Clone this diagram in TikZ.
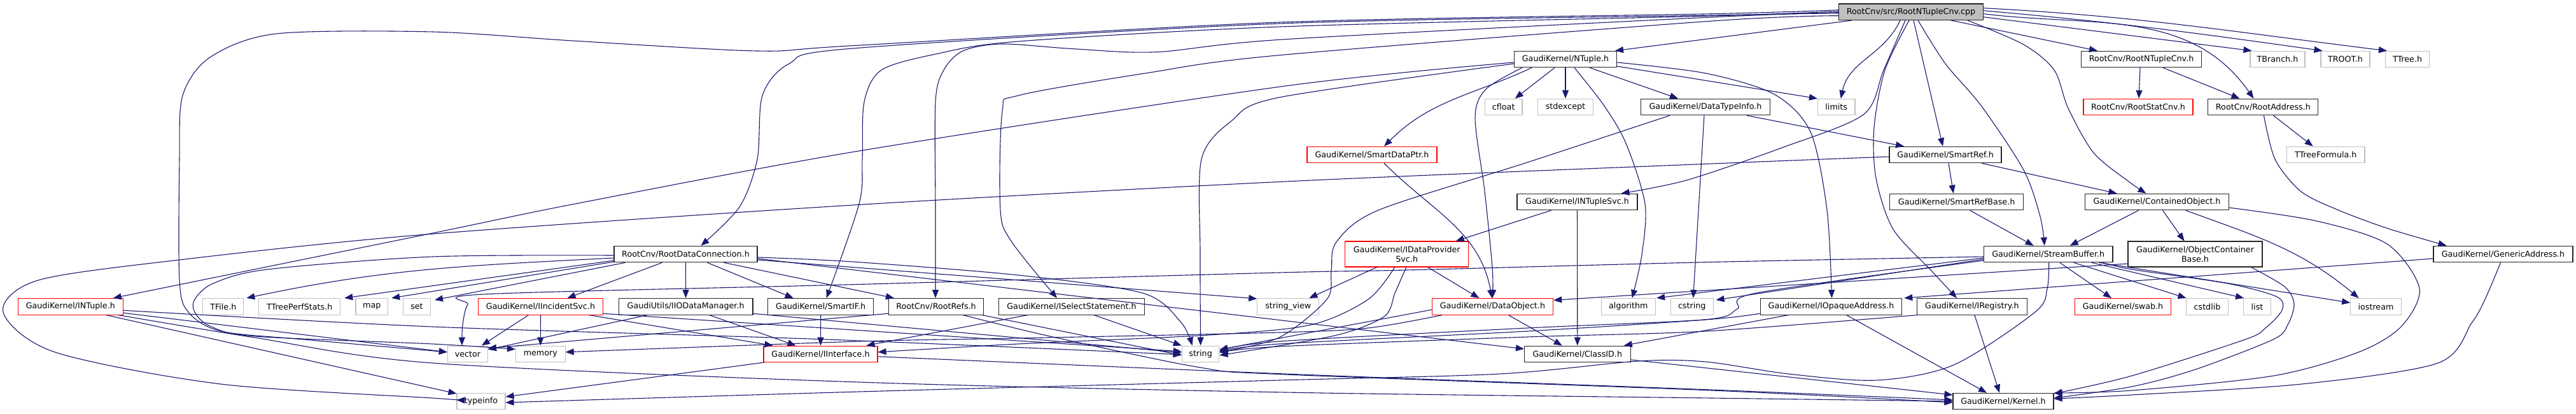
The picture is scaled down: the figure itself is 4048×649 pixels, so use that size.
\documentclass[tikz,border=0pt]{standalone}
\usepackage{fontspec}
\setmainfont{DejaVu Sans}
\usetikzlibrary{arrows.meta}
\definecolor{edgec}{HTML}{191970}
\definecolor{greyb}{HTML}{BFBFBF}
\definecolor{redb}{HTML}{FF0000}
\newcommand\nodefont{\fontsize{12.7}{15}\selectfont}
\begin{document}
\begin{tikzpicture}[x=1pt,y=-1pt,
 nb/.style={draw=black!85, line width=1.1pt, fill=white, minimum height=25.5pt, inner sep=0pt, font=\nodefont, text=black, align=center},
 ng/.style={nb, draw=greyb},
 nr/.style={nb, draw=redb},
 e/.style={draw=edgec, line width=1.1pt, -{Triangle[length=13pt,width=10pt]}},
]
\useasboundingbox (0,0) rectangle (4048,649);
% row 0
\node[nb, fill=greyb, minimum width=227pt] (main) at (3003,18.7) {RootCnv/src/RootNTupleCnv.cpp};
% row 1
\node[nb, minimum width=161pt] (NTuple) at (2460,93) {GaudiKernel/NTuple.h};
\node[nb, minimum width=189pt] (RNCh) at (3365,93) {RootCnv/RootNTupleCnv.h};
\node[ng, minimum width=86pt] (TBranch) at (3579,93) {TBranch.h};
\node[ng, minimum width=77pt] (TROOT) at (3685.5,93) {TROOT.h};
\node[ng, minimum width=69pt] (TTree) at (3783,93) {TTree.h};
% row 2
\node[ng, minimum width=58.5pt] (cfloat) at (2362.7,168) {cfloat};
\node[ng, minimum width=87pt] (stdexcept) at (2460,168) {stdexcept};
\node[nb, minimum width=203pt] (DTI) at (2680,168) {GaudiKernel/DataTypeInfo.h};
\node[ng, minimum width=58.5pt] (limits) at (2885.7,168) {limits};
\node[nr, minimum width=172pt] (RSC) at (3360,168) {RootCnv/RootStatCnv.h};
\node[nb, minimum width=173pt] (RA) at (3556.4,168) {RootCnv/RootAddress.h};
% row 3
\node[nr, minimum width=204pt] (SDP) at (2156,243) {GaudiKernel/SmartDataPtr.h};
\node[nb, minimum width=176pt] (SR) at (3057,243) {GaudiKernel/SmartRef.h};
\node[ng, minimum width=122.5pt] (TTF) at (3654.7,243) {TTreeFormula.h};
% row 4
\node[nb, minimum width=189pt] (INS) at (2478.5,317) {GaudiKernel/INTupleSvc.h};
\node[nb, minimum width=210pt] (SRB) at (3074.6,317) {GaudiKernel/SmartRefBase.h};
\node[nb, minimum width=225.6pt] (CO) at (3389.5,317) {GaudiKernel/ContainedObject.h};
% row 5
\node[nb, minimum width=225pt] (RDC) at (1077.5,399) {RootCnv/RootDataConnection.h};
\node[nr, minimum width=194pt, minimum height=40pt] (IDPS) at (2210.7,399) {GaudiKernel/IDataProvider\\Svc.h};
\node[nb, minimum width=202.5pt] (SB) at (3218.7,399) {GaudiKernel/StreamBuffer.h};
\node[nb, minimum width=211pt, minimum height=40pt] (OCB) at (3449.5,399) {GaudiKernel/ObjectContainer\\Base.h};
\node[nb, minimum width=219pt] (GA) at (3933.5,399) {GaudiKernel/GenericAddress.h};
% row 6
\node[nr, minimum width=165pt] (INT) at (110.8,481.3) {GaudiKernel/INTuple.h};
\node[ng, minimum width=64pt] (TFile) at (350.8,481.3) {TFile.h};
\node[ng, minimum width=128pt] (TTPS) at (470.7,481.3) {TTreePerfStats.h};
\node[ng, minimum width=50.7pt] (map) at (584.3,481.3) {map};
\node[ng, minimum width=43pt] (set) at (655,481.3) {set};
\node[nr, minimum width=196pt] (IIS) at (849.5,481.3) {GaudiKernel/IIncidentSvc.h};
\node[nb, minimum width=210.7pt] (IIOD) at (1077.6,481.3) {GaudiUtils/IIODataManager.h};
\node[nb, minimum width=165.6pt] (SIF) at (1289.7,481.3) {GaudiKernel/SmartIF.h};
\node[nb, minimum width=149pt] (RR) at (1471,481.3) {RootCnv/RootRefs.h};
\node[nb, minimum width=229.4pt] (ISS) at (1684,481.3) {GaudiKernel/ISelectStatement.h};
\node[ng, minimum width=97pt] (SV) at (2024.3,481.3) {string\_view};
\node[nr, minimum width=190.4pt] (DO) at (2345.4,481.3) {GaudiKernel/DataObject.h};
\node[ng, minimum width=85.5pt] (algo) at (2558.8,481.3) {algorithm};
\node[ng, minimum width=66.7pt] (cstring) at (2658.7,481.3) {cstring};
\node[nb, minimum width=222.5pt] (IOA) at (2877.5,481.3) {GaudiKernel/IOpaqueAddress.h};
\node[nb, minimum width=172.6pt] (IR) at (3098.9,481.3) {GaudiKernel/IRegistry.h};
\node[nr, minimum width=150.8pt] (swab) at (3336,481.3) {GaudiKernel/swab.h};
\node[ng, minimum width=66pt] (cstdlib) at (3468.5,481.3) {cstdlib};
\node[ng, minimum width=43pt] (list) at (3547,481.3) {list};
\node[ng, minimum width=79.7pt] (iostream) at (3733.5,481.3) {iostream};
% row 7
\node[ng, minimum width=63pt] (vector) at (734.9,555.8) {vector};
\node[ng, minimum width=77.6pt] (memory) at (849.3,555.8) {memory};
\node[nr, minimum width=179pt] (II) at (1289.5,555.8) {GaudiKernel/IInterface.h};
\node[ng, minimum width=58.6pt] (string) at (1886.6,555.8) {string};
\node[nb, minimum width=166.5pt] (CID) at (2478.8,555.8) {GaudiKernel/ClassID.h};
% row 8
\node[ng, minimum width=76pt] (typeinfo) at (756,630) {typeinfo};
\node[nb, minimum width=158pt] (Kernel) at (3148,630) {GaudiKernel/Kernel.h};

% ---- edges from main
\draw[e] ([xshift=-93pt]main.south) -- ([xshift=78pt]NTuple.north);
\draw[e] ([xshift=-17pt]main.south) to[out=-115,in=78] ([xshift=7pt]limits.north);
\draw[e] ([xshift=4pt]main.south) -- ([xshift=-4pt]SR.north);
\draw[e] ([xshift=63pt]main.south) -- ([xshift=-69pt]RNCh.north);
\draw[e] ([yshift=-8pt]main.east) -- ([xshift=3pt]TBranch.north west);
\draw[e] ([yshift=2pt]main.east) to[out=-5,in=172] ([xshift=3pt]TROOT.north west);
\draw[e] ([yshift=6pt]main.east) to[out=-3,in=173] ([xshift=3pt]TTree.north west);
\draw[e] ([yshift=-3pt]main.east) to[out=-7,in=125] ([xshift=-15pt]RA.north);
\draw[e] plot[smooth] coordinates {([xshift=89pt]main.south) (3180,70) (3228,110) (3250,170) (3290,240) (3345,285) ([xshift=-17pt]CO.north)};
\draw[e] plot[smooth] coordinates {([xshift=11pt]main.south) (3057,100) (3114,167) (3180,267) (3206,340) ([xshift=-6pt]SB.north)};
\draw[e] plot[smooth] coordinates {([xshift=-3pt]main.south) (2962,110) (2945,200) (2948,280) (2975,360) (3035,425) ([xshift=-24pt]IR.north)};
\draw[e] plot[smooth] coordinates {([xshift=-9pt]main.south) (2960,110) (2928,180) (2800,232) (2650,283) ([xshift=69pt]INS.north)};
\draw[e] plot[smooth] coordinates {([yshift=-2pt]main.west) (2690,24) (2010,37) (1340,76) (1240,100) (1198,150) (1190,250) (1162,325) ([xshift=24pt]RDC.north)};
\draw[e] plot[smooth] coordinates {([yshift=3pt]main.west) (2690,21.7) (2010,35) (1340,71.7) (1190,80) (900,64) (680,50) (434,53) (330,90) (287,150) (282,250) (282,440) (296,490) (347,520) (477,533) ([yshift=3pt]vector.west)};
\draw[e] plot[smooth] coordinates {([yshift=1pt]main.west) (2690,25) (2020,41.7) (1600,65) (1470,85) (1385,110) (1358,160) (1355,250) (1350,320) ([xshift=9pt]SIF.north)};
\draw[e] plot[smooth] coordinates {([yshift=-1pt]main.west) (2690,27) (2020,61.7) (1817,81.7) (1687,76.7) (1574,69) (1513,80) (1483,110) (1470,160) (1470,330) ([xshift=-1pt]RR.north)};
\draw[e] plot[smooth] coordinates {([yshift=-6pt]main.west) (2690,33) (2010,86.7) (1800,115) (1600,150) (1575,175) (1572,330) (1590,380) ([xshift=-23pt]ISS.north)};

% ---- NTuple
\draw[e] ([xshift=-17pt]NTuple.south) -- ([xshift=18pt]cfloat.north);
\draw[e] (NTuple.south) -- (stdexcept.north);
\draw[e] ([xshift=38pt]NTuple.south) -- ([xshift=-43pt]DTI.north);
\draw[e] ([xshift=-53pt]NTuple.south) to[out=-155,in=45] ([xshift=19pt]SDP.north);
\draw[e] plot[smooth] coordinates {([xshift=-68pt]NTuple.south) (2335,140) (2318,185) (2333,300) (2345,420) (DO.north)};
\draw[e] plot[smooth] coordinates {([xshift=14pt]NTuple.south) (2520,165) (2555,225) (2585,320) (2580,400) ([xshift=6pt]algo.north)};
\draw[e] plot[smooth] coordinates {([yshift=-5pt]NTuple.east) (2680,115) (2788,148) (2845,207) (2871,330) ([xshift=1pt]IOA.north)};
\draw[e] ([yshift=-11pt]NTuple.east) -- (limits.north west);
\draw[e] plot[smooth] coordinates {([yshift=-5pt]NTuple.west) (2020,135) (1350,237) (904,320) (680,366) ([xshift=67pt]INT.north)};
\draw[e] plot[smooth] coordinates {([yshift=-7pt]NTuple.west) (2010,153) (1935,190) (1888,250) (1886,400) (string.north)};

% ---- DataTypeInfo
\draw[e] ([xshift=65pt]DTI.south) -- ([xshift=-65pt]SR.north);
\draw[e] plot[smooth] coordinates {([xshift=-56pt]DTI.south) (2400,255) (2166,330) (2100,380) (2092,425) (2085,470) (2010,530) ([yshift=3pt]string.east)};
\draw[e] ([xshift=-2pt]DTI.south) -- ([xshift=2pt]cstring.north);

% ---- SmartDataPtr, SmartRef
\draw[e] ([xshift=19pt]SDP.south) to[out=-45,in=100] ([xshift=-1pt]DO.north);
\draw[e] ([xshift=5pt]SR.south) -- ([xshift=-5pt]SRB.north);
\draw[e] ([xshift=57pt]SR.south) -- ([xshift=-63pt]CO.north);
\draw[e] plot[smooth] coordinates {([yshift=-3pt]SR.west) (2690,257) (2020,285) (1340,322) (670,368) (282,408) (60,440) (5,490) (86.7,553) (347,603) (680,625) ([yshift=2pt]typeinfo.west)};

% ---- RootNTupleCnv.h, RootAddress
\draw[e] ([xshift=-2pt]RNCh.south) -- ([xshift=1pt]RSC.north);
\draw[e] ([xshift=34pt]RNCh.south) -- ([xshift=-37pt]RA.north);
\draw[e] ([xshift=16pt]RA.south) -- ([xshift=-20pt]TTF.north);
\draw[e] plot[smooth] coordinates {([xshift=1pt]RA.south) (3575,250) (3615,300) (3670,328) (3750,358) ([xshift=-89pt]GA.north)};

% ---- INTupleSvc, SmartRefBase, ContainedObject
\draw[e] ([xshift=-41pt]INS.south) -- ([xshift=77pt]IDPS.north);
\draw[e] (INS.south) -- (CID.north);
\draw[e] ([xshift=21pt]SRB.south) -- ([xshift=-23pt]SB.north);
\draw[e] ([xshift=-29pt]CO.south) -- ([xshift=34pt]SB.north);
\draw[e] ([xshift=9pt]CO.south) -- ([xshift=-17pt]OCB.north);
\draw[e] ([xshift=45pt]CO.south) to[out=-20,in=140] ([xshift=-27pt]iostream.north);
\draw[e] plot[smooth] coordinates {([yshift=-9pt]CO.east) (3639,346.7) (3751,383) (3802,453) (3773,513) (3706,553) (3572.6,590) (3350,613) ([yshift=13pt]Kernel.east)};

% ---- RootDataConnection
\draw[e] ([xshift=-37pt]RDC.south) -- ([xshift=42pt]IIS.north);
\draw[e] (RDC.south) -- (IIOD.north);
\draw[e] ([xshift=34pt]RDC.south) -- ([xshift=-43pt]SIF.north);
\draw[e] ([xshift=60pt]RDC.south) -- ([xshift=-66pt]RR.north);
\draw[e] plot[smooth] coordinates {([yshift=-5pt]RDC.east) (1340,411) (1600,432) (1795,460) (1855,505) ([xshift=-13pt]string.north)};
\draw[e] ([yshift=-7pt]RDC.east) -- ([yshift=8pt]CID.west);
\draw[e] ([yshift=-9pt]RDC.east) -- ([yshift=-1pt]SV.north west);
\draw[e] ([yshift=-6pt]RDC.west) to[out=183,in=12] ([xshift=4pt]TFile.north east);
\draw[e] ([yshift=-10pt]RDC.west) -- ([xshift=6pt]TTPS.north east);
\draw[e] ([yshift=-12pt]RDC.west) -- ([xshift=5pt]map.north east);
\draw[e] ([xshift=-95pt]RDC.south) -- ([xshift=6pt,yshift=-3pt]set.north east);
\draw[e] plot[smooth] coordinates {([yshift=-2pt]RDC.west) (680,403) (420,423) (335,445) (306,470) (306,490) (330,512) (400,528) (680,540) ([yshift=7.5pt]memory.west)};

% ---- IIncidentSvc, IIODataManager, SmartIF, RootRefs, ISelectStatement
\draw[e] ([xshift=-19pt]IIS.south) -- ([xshift=22pt]vector.north);
\draw[e] (IIS.south) -- (memory.north);
\draw[e] ([xshift=76pt]IIS.south) -- ([xshift=-75pt]II.north);
\draw[e] ([yshift=-11pt]IIS.east) -- ([yshift=4pt]string.west);
\draw[e] ([xshift=-60pt]IIOD.south) -- ([yshift=7pt]vector.east);
\draw[e] ([xshift=37pt]IIOD.south) -- ([xshift=-39pt]II.north);
\draw[e] ([yshift=-11pt]IIOD.east) -- ([yshift=2pt]string.west);
\draw[e] (SIF.south) -- (II.north);
\draw[e] ([yshift=-11pt]RR.west) -- ([yshift=9pt]vector.east);
\draw[e] ([xshift=72pt]RR.south) -- ([yshift=-2pt]string.west);
\draw[e] plot[smooth] coordinates {([xshift=42pt]RR.south) (1650,528) (1886,577) (2020,588) (2690,613) ([yshift=-2pt]Kernel.west)};
\draw[e] ([xshift=-69pt]ISS.south) -- ([xshift=72pt]II.north);
\draw[e] ([xshift=35pt]ISS.south) -- (string.north west);

% ---- IDataProviderSvc, DataObject
\draw[e] ([xshift=-47pt]IDPS.south) -- ([xshift=33pt]SV.north);
\draw[e] ([xshift=33pt]IDPS.south) -- ([xshift=-21pt]DO.north);
\draw[e] plot[smooth] coordinates {([xshift=-19pt]IDPS.south) (2150,470) (2060,510) (1900,526) (1600,540) ([yshift=3pt]II.east)};
\draw[e] plot[smooth] coordinates {([xshift=-1pt]IDPS.south) (2192,460) (2175,497) (2097,527) ([yshift=-2pt]string.east)};
\draw[e] ([xshift=25pt]DO.south) -- ([xshift=-24pt]CID.north);
\draw[e] ([yshift=-5pt]DO.west) -- ([yshift=7pt]string.east);
\draw[e] plot[smooth] coordinates {([xshift=-79pt]DO.south) (2150,515) (2010,522) (1600,531) (1350,536) ([yshift=3pt]memory.east)};

% ---- INTuple, IInterface, ClassID
\draw[e] ([yshift=-10pt]INT.east) -- ([yshift=3pt]vector.west);
\draw[e] plot[smooth] coordinates {([yshift=-6pt]INT.east) (680,513) (1300,533) ([yshift=-1pt]string.west)};
\draw[e] plot[smooth] coordinates {([xshift=75pt]INT.south) (400,530) (680,570) (1350,600) (2020,616) (2690,625) (Kernel.west)};
\draw[e] ([xshift=56pt]INT.south) -- ([yshift=12pt]typeinfo.west);
\draw[e] ([xshift=-89pt]II.south) -- ([yshift=7pt]typeinfo.east);
\draw[e] plot[smooth] coordinates {([yshift=-4pt]II.east) (2020,587) (2690,612) ([yshift=2pt]Kernel.west)};
\draw[e] ([yshift=-9pt]CID.east) -- ([yshift=10pt]Kernel.west);

% ---- IOpaqueAddress, IRegistry
\draw[e] ([xshift=-67pt]IOA.south) -- ([xshift=73pt]CID.north);
\draw[e] ([xshift=24pt]IOA.south) -- ([xshift=-26pt]Kernel.north);
\draw[e] plot[smooth] coordinates {([yshift=-11pt]IOA.west) (2680,502) (2400,520) (2010,540) ([yshift=4pt]string.east)};
\draw[e] ([xshift=4pt]IR.south) -- ([xshift=-6pt]Kernel.north);
\draw[e] plot[smooth] coordinates {([xshift=-86pt]IR.south) (2680,520) (2400,529) (2010,544) ([yshift=2pt]string.east)};

% ---- StreamBuffer
\draw[e] plot[smooth] coordinates {([yshift=-4pt]SB.west) (2680,411.7) (2210,424) (2010,428) (1340,446.7) (760,462) (735,478) (727,510) ([xshift=-9pt]vector.north)};
\draw[e] plot[smooth] coordinates {([xshift=1pt]SB.south) (3217,453) (3198,490) (3070,573) (2949,597) (2810,587) (2680,568) (2574,567) (2357,587) (2010,597) (1350,615) ([yshift=-2pt]typeinfo.east)};
\draw[e] ([yshift=-6pt]SB.west) -- ([xshift=1pt]algo.north east);
\draw[e] ([yshift=-8pt]SB.west) -- ([xshift=4pt,yshift=-3pt]cstring.north east);
\draw[e] plot[smooth] coordinates {([yshift=-10pt]SB.west) (2760,460) (2730,485) (2680,501.7) (2400,515) (2010,536) ([yshift=5pt]string.east)};
\draw[e] ([xshift=18pt]SB.south) -- ([xshift=-18pt]swab.north);
\draw[e] ([xshift=40pt]SB.south) -- ([xshift=-33pt]cstdlib.north);
\draw[e] ([xshift=68pt]SB.south) -- ([xshift=-21pt]list.north);
\draw[e] ([xshift=80pt]SB.south) -- ([yshift=6pt]iostream.west);
\draw[e] plot[smooth] coordinates {([xshift=86pt]SB.south) (3350,423) (3500,445) (3578,466) (3586,487) (3560,515) (3528,533) (3350,590) ([yshift=12pt]Kernel.east)};

% ---- ObjectContainerBase, GenericAddress
\draw[e] ([yshift=-15pt]OCB.west) -- ([yshift=10pt]DO.east);
\draw[e] plot[smooth] coordinates {([xshift=88pt]OCB.south) (3590,450) (3605,477) (3595,510) (3572,533) (3450,580) (3350,607) ([yshift=5pt]Kernel.east)};
\draw[e] ([yshift=-7pt]GA.west) -- ([xshift=3pt]IOA.north east);
\draw[e] plot[smooth] coordinates {([xshift=-4pt]GA.south) (3905,470) (3884,507) (3831,570) (3617,603) (3350,620) ([yshift=4pt]Kernel.east)};
\end{tikzpicture}
\end{document}
